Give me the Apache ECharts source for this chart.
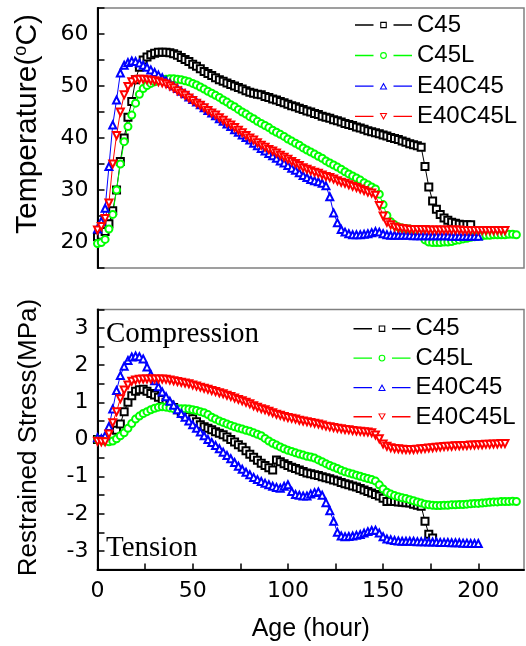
<!DOCTYPE html>
<html>
<head>
<meta charset="utf-8">
<script src="https://cdn.jsdelivr.net/npm/echarts@6/dist/echarts.min.js"></script>
<style>html,body{margin:0;padding:0;background:#fff}#c{width:526px;height:646px}</style>
</head>
<body>
<div id="c"></div>
<script>
// Age (hour), every 2 h
var hours = [];
for (var h = 0; h <= 220; h += 2) hours.push(h);

var seriesNames = ['C45', 'C45L', 'E40C45', 'E40C45L'];

// Temperature (°C)
var tempC45 = [21.0,21.3,22.0,23.5,26.0,30.0,35.5,40.0,44.0,47.0,51.2,53.6,55.0,55.6,56.0,56.3,56.5,56.5,56.5,56.4,
56.2,55.9,55.5,55.1,54.7,54.2,53.8,53.3,52.8,52.4,52.0,51.6,51.2,50.9,50.6,50.3,50.0,49.7,49.4,49.1,
48.8,48.6,48.4,48.3,48.0,47.8,47.5,47.3,47.0,46.8,46.5,46.2,46.0,45.7,45.5,45.2,45.0,44.7,44.5,44.2,
44.0,43.8,43.5,43.3,43.1,42.8,42.6,42.4,42.1,41.9,41.7,41.4,41.2,41.0,40.8,40.6,40.4,40.1,39.9,39.7,
39.4,39.2,38.9,38.7,38.5,38.2,34.5,30.6,27.9,26.3,25.3,24.6,24.2,23.8,23.6,23.4,23.3,23.3,23.3];
var tempC45L = [19.7,19.9,20.5,22.5,25.3,30.0,35.0,39.3,42.2,44.4,46.7,48.4,49.5,50.1,50.5,50.8,51.0,51.2,51.3,51.4,
51.4,51.3,51.2,51.0,50.8,50.5,50.2,49.8,49.4,49.0,48.6,48.2,47.8,47.3,46.9,46.4,46.0,45.5,45.0,44.6,
44.1,43.7,43.2,42.8,42.4,42.0,41.5,41.1,40.7,40.3,39.8,39.4,39.0,38.6,38.1,37.7,37.3,36.9,36.5,36.1,
35.6,35.2,34.8,34.4,34.0,33.5,33.1,32.7,32.3,31.9,31.4,31.0,30.6,30.2,29.2,27.2,25.1,23.9,23.3,22.9,
22.7,22.6,22.5,22.4,22.2,21.6,20.4,20.0,19.9,19.9,19.9,20.0,20.0,20.1,20.3,20.4,20.6,20.7,20.9,21.0,
21.1,21.2,21.3,21.3,21.4,21.4,21.4,21.4,21.5,21.5,21.4];
var tempE40C45 = [22.5,24.0,26.5,34.5,42.5,47.3,52.5,54.0,54.5,54.8,54.7,54.4,54.0,53.6,53.1,52.6,52.1,51.6,51.0,50.5,
50.0,49.5,49.0,48.5,47.9,47.4,46.9,46.4,45.8,45.3,44.8,44.3,43.7,43.2,42.7,42.2,41.6,41.1,40.6,40.1,
39.6,39.0,38.5,38.0,37.5,37.0,36.6,36.1,35.6,35.2,34.7,34.2,33.8,33.3,32.8,32.4,32.0,31.8,31.6,31.3,
30.8,28.7,25.6,23.7,22.4,21.9,21.6,21.4,21.4,21.4,21.5,21.6,21.8,22.0,21.9,21.6,21.4,21.3,21.3,21.3,
21.3,21.3,21.3,21.2,21.2,21.2,21.2,21.2,21.2,21.2,21.2,21.2,21.2,21.1,21.1,21.1,21.1,21.1,21.1,21.1,21.1];
var tempE40C45L = [22.3,23.0,24.5,27.5,35.0,40.5,45.0,48.3,49.9,50.8,51.2,51.3,51.3,51.2,51.1,51.0,50.8,50.6,50.4,50.0,
49.6,49.1,48.6,48.2,47.7,47.2,46.7,46.3,45.8,45.3,44.8,44.4,43.9,43.4,42.9,42.5,42.0,41.5,41.0,40.5,
40.0,39.6,39.1,38.6,38.2,37.8,37.5,37.1,36.7,36.3,35.9,35.5,35.1,34.7,34.3,34.0,33.7,33.4,33.2,32.9,
32.6,32.4,32.1,31.8,31.5,31.3,31.0,30.7,30.5,30.2,29.9,29.6,29.4,29.0,27.0,25.0,23.8,23.3,22.9,22.7,
22.6,22.5,22.4,22.4,22.4,22.4,22.4,22.3,22.3,22.3,22.3,22.3,22.3,22.3,22.3,22.3,22.2,22.2,22.2,22.2,
22.2,22.2,22.2,22.2,22.2,22.2,22.2,22.2];

// Restrained stress (MPa)
var stressC45 = [0.0,0.0,0.0,0.02,0.1,0.25,0.42,0.75,1.0,1.18,1.3,1.34,1.35,1.3,1.24,1.2,1.14,1.08,1.0,0.93,
0.86,0.8,0.74,0.68,0.62,0.56,0.48,0.4,0.34,0.3,0.26,0.21,0.17,0.13,0.07,0.0,-0.07,-0.14,-0.21,-0.3,
-0.4,-0.48,-0.56,-0.64,-0.7,-0.76,-0.82,-0.55,-0.6,-0.65,-0.7,-0.75,-0.78,-0.82,-0.86,-0.9,-0.92,-0.95,-0.97,-1.0,
-1.03,-1.06,-1.09,-1.12,-1.16,-1.19,-1.22,-1.25,-1.28,-1.32,-1.36,-1.4,-1.44,-1.48,-1.52,-1.58,-1.67,-1.66,-1.67,-1.68,
-1.69,-1.7,-1.71,-1.74,-1.77,-1.8,-2.2,-2.55,-2.65];
var stressC45L = [0.0,-0.02,-0.04,-0.06,-0.04,0.02,0.1,0.18,0.3,0.43,0.55,0.63,0.7,0.75,0.8,0.84,0.87,0.88,0.87,0.85,
0.83,0.83,0.83,0.83,0.82,0.8,0.78,0.75,0.72,0.67,0.6,0.55,0.5,0.46,0.42,0.38,0.34,0.31,0.28,0.25,
0.22,0.18,0.14,0.1,0.03,-0.04,-0.1,-0.15,-0.2,-0.25,-0.29,-0.32,-0.36,-0.39,-0.42,-0.45,-0.47,-0.5,-0.55,-0.6,
-0.65,-0.7,-0.74,-0.78,-0.83,-0.87,-0.9,-0.93,-0.96,-0.99,-1.02,-1.05,-1.08,-1.12,-1.22,-1.33,-1.42,-1.47,-1.51,-1.54,
-1.57,-1.59,-1.62,-1.65,-1.68,-1.71,-1.74,-1.76,-1.77,-1.78,-1.78,-1.77,-1.77,-1.76,-1.76,-1.75,-1.75,-1.74,-1.73,-1.72,
-1.72,-1.71,-1.7,-1.69,-1.68,-1.68,-1.67,-1.67,-1.67,-1.66,-1.67];
var stressE40C45 = [0.05,0.02,0.1,0.35,0.82,1.32,1.72,1.97,2.13,2.22,2.25,2.23,2.17,1.95,1.75,1.58,1.42,1.28,1.15,1.03,
0.92,0.8,0.7,0.6,0.5,0.4,0.3,0.2,0.1,0.0,-0.08,-0.16,-0.25,-0.34,-0.43,-0.52,-0.62,-0.72,-0.8,-0.88,
-0.95,-1.02,-1.08,-1.13,-1.18,-1.22,-1.26,-1.29,-1.31,-1.26,-1.22,-1.4,-1.48,-1.5,-1.52,-1.52,-1.47,-1.43,-1.41,-1.5,
-1.7,-1.92,-2.2,-2.5,-2.6,-2.62,-2.61,-2.6,-2.58,-2.56,-2.52,-2.48,-2.45,-2.44,-2.52,-2.62,-2.68,-2.7,-2.72,-2.73,
-2.74,-2.74,-2.74,-2.74,-2.75,-2.75,-2.75,-2.76,-2.76,-2.76,-2.77,-2.77,-2.77,-2.78,-2.78,-2.78,-2.79,-2.79,-2.8,-2.8,-2.8];
var stressE40C45L = [-0.05,-0.06,-0.06,0.15,0.45,0.75,1.1,1.33,1.47,1.57,1.6,1.62,1.63,1.63,1.63,1.63,1.63,1.63,1.62,1.6,
1.58,1.56,1.54,1.52,1.5,1.47,1.44,1.41,1.38,1.35,1.32,1.29,1.26,1.23,1.19,1.16,1.12,1.08,1.04,1.0,
0.96,0.91,0.87,0.83,0.8,0.76,0.72,0.68,0.65,0.62,0.59,0.57,0.55,0.52,0.5,0.48,0.46,0.44,0.42,0.39,
0.36,0.34,0.32,0.3,0.29,0.27,0.26,0.24,0.23,0.22,0.21,0.2,0.18,0.12,0.02,-0.12,-0.18,-0.22,-0.24,-0.25,
-0.26,-0.27,-0.27,-0.27,-0.26,-0.25,-0.24,-0.23,-0.22,-0.21,-0.2,-0.19,-0.18,-0.18,-0.17,-0.17,-0.16,-0.16,-0.15,-0.15,
-0.14,-0.14,-0.13,-0.13,-0.12,-0.12,-0.11,-0.11];

var yTempTicks = [20, 30, 40, 50, 60];
var yStressTicks = [-3, -2, -1, 0, 1, 2, 3];
var xTicks = [0, 50, 100, 150, 200];

var colors = ['#000000', '#00ff00', '#0000ff', '#ff0000'];
var symbols = ['emptyRect', 'emptyCircle', 'emptyTriangle', 'emptyTriangle'];
var rotates = [0, 0, 0, 180];
var tempData = [tempC45, tempC45L, tempE40C45, tempE40C45L];
var stressData = [stressC45, stressC45L, stressE40C45, stressE40C45L];

// legend icons: line - hollow marker - line
var LINES = 'M0,3.3 H18.5 V4.7 H0 Z M38.5,3.3 H57 V4.7 H38.5 Z ';
var legendIcons = [
  'path://' + LINES + 'M25.2,0.8 H31.8 V7.2 H25.2 Z M26.3,1.9 V6.1 H30.7 V1.9 Z',
  'path://' + LINES + 'M31.9,4 A3.4,3.4 0 1,1 25.1,4 A3.4,3.4 0 1,1 31.9,4 Z M30.8,4 A2.3,2.3 0 1,0 26.2,4 A2.3,2.3 0 1,0 30.8,4 Z',
  'path://' + LINES + 'M28.5,0.5 L32.4,7.3 L24.6,7.3 Z M28.5,2.6 L26.3,6.5 L30.7,6.5 Z',
  'path://' + LINES + 'M24.6,0.7 L32.4,0.7 L28.5,7.5 Z M26.3,1.5 L28.5,5.4 L30.7,1.5 Z'
];

function pairs(vals) {
  var out = [];
  for (var i = 0; i < vals.length; i++) out.push([hours[i], vals[i]]);
  return out;
}

var FONT = "'Liberation Sans', Arial, sans-serif";
var TICKFONT = "'DejaVu Sans', sans-serif";
var series = [];
for (var g = 0; g < 2; g++) {
  for (var k = 0; k < 4; k++) {
    series.push({
      name: seriesNames[k],
      type: 'line',
      xAxisIndex: g, yAxisIndex: g,
      data: pairs(g === 0 ? tempData[k] : stressData[k]),
      symbol: symbols[k],
      symbolRotate: rotates[k],
      symbolSize: 7,
      showAllSymbol: true,
      animation: false,
      color: colors[k],
      itemStyle: { color: colors[k], borderWidth: 1 },
      lineStyle: { color: colors[k], width: 1 },
      emphasis: { disabled: true }
    });
  }
}

function yAxisBase(idx, min, max, interval, ticks, name, nameGap, nameSize, namePad) {
  return {
    type: 'value', gridIndex: idx, min: min, max: max, interval: interval,
    axisLine: { show: true, lineStyle: { color: '#000', width: 2 } },
    axisTick: { show: true, inside: true, length: 7, lineStyle: { color: '#000', width: 1.5 } },
    axisLabel: {
      color: '#000', fontSize: 22, fontFamily: TICKFONT, margin: 9,
      formatter: function (v) { return ticks.indexOf(v) >= 0 ? String(v) : ''; }
    },
    splitLine: { show: false },
    name: name, nameLocation: 'middle', nameGap: nameGap,
    nameTextStyle: { color: '#000', fontSize: nameSize, fontFamily: FONT, padding: namePad,
      rich: { sup: { fontSize: 18, verticalAlign: 'top', fontFamily: FONT, color: '#000', padding: [0, 0, 12, 0] },
              n: { fontSize: nameSize, fontFamily: FONT, color: '#000' } } }
  };
}

function legendData() {
  return seriesNames.map(function (n, i) { return { name: n, icon: legendIcons[i] }; });
}

var option = {
  backgroundColor: '#fff',
  animation: false,
  grid: [
    { left: 97.5, right: 2, top: 8, height: 260, show: true, borderColor: '#808080', borderWidth: 1.5, containLabel: false },
    { left: 97.5, right: 2, top: 309.5, height: 260, show: true, borderColor: '#808080', borderWidth: 1.5, containLabel: false }
  ],
  xAxis: [
    { type: 'value', gridIndex: 0, min: 0, max: 224, interval: 25,
      axisLine: { show: false }, axisTick: { show: false }, axisLabel: { show: false }, splitLine: { show: false } },
    { type: 'value', gridIndex: 1, min: 0, max: 224, interval: 25,
      axisLine: { show: true, onZero: false, lineStyle: { color: '#000', width: 2 } },
      axisTick: { show: true, inside: true, length: 6, lineStyle: { color: '#000', width: 1.5 } },
      axisLabel: { color: '#000', fontSize: 22, fontFamily: TICKFONT, margin: 11, showMaxLabel: false,
        formatter: function (v) { return xTicks.indexOf(v) >= 0 ? String(v) : ''; } },
      splitLine: { show: false },
      name: 'Age (hour)', nameLocation: 'middle', nameGap: 47,
      nameTextStyle: { color: '#000', fontSize: 25, fontFamily: FONT } }
  ],
  yAxis: [
    yAxisBase(0, 15, 65, 5, yTempTicks, '{n|Temperature(}{sup|o}{n|C)}', 55, 30, [0, 0, 0, 28]),
    yAxisBase(1, -3.5, 3.5, 0.5, yStressTicks, 'Restrained Stress(MPa)', 56, 26, [0, 0, 0, 4])
  ],
  legend: [
    { data: legendData(), orient: 'vertical', left: 355, top: 13, padding: 0, itemGap: 6.5,
      itemWidth: 57, itemHeight: 8, selectedMode: false,
      itemStyle: { borderWidth: 0 },
      textStyle: { color: '#000', fontSize: 24, fontFamily: FONT } },
    { data: legendData(), orient: 'vertical', left: 353.5, top: 316.7, padding: 0, itemGap: 5.4,
      itemWidth: 57, itemHeight: 8, selectedMode: false,
      itemStyle: { borderWidth: 0 },
      textStyle: { color: '#000', fontSize: 24, fontFamily: FONT } }
  ],
  graphic: [
    { type: 'text', left: 106, top: 320, silent: true,
      style: { text: 'Compression', font: "29px 'Liberation Serif', 'Times New Roman', serif", fill: '#000' } },
    { type: 'text', left: 106, top: 534, silent: true,
      style: { text: 'Tension', font: "29px 'Liberation Serif', 'Times New Roman', serif", fill: '#000' } }
  ],
  series: series
};

var chart = echarts.init(document.getElementById('c'), null, { renderer: 'canvas' });
chart.setOption(option);
</script>
</body>
</html>
